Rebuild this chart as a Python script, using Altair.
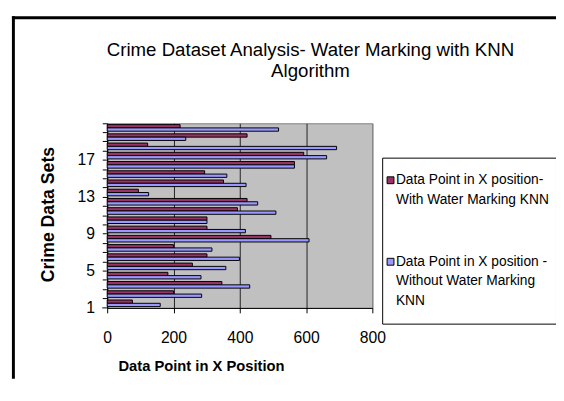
import altair as alt
import pandas as pd

# ---- data ----
datasets = list(range(1, 21))
with_wm = [76, 200, 346, 183, 257, 301, 200, 494, 301, 301, 393, 422, 94, 351, 294, 565, 593, 122, 422, 220]
without_wm = [160, 285, 430, 283, 358, 399, 316, 609, 417, 301, 509, 454, 125, 419, 361, 565, 662, 692, 237, 517]
series = ["Data Point in X position- With Water Marking KNN",
          "Data Point in X position - Without Water Marking KNN"]
colors = ["#993366", "#9999FF"]
x_ticks = [0, 200, 400, 600, 800]
y_labels = [1, 5, 9, 13, 17]
title_lines = ["Crime Dataset Analysis- Water Marking with KNN", "Algorithm"]
legend_lines = [["Data Point in X position-", "With Water Marking KNN"],
                ["Data Point in X position -", "Without Water Marking", "KNN"]]
x_title = "Data Point in X Position"
y_title = "Crime Data Sets"

rows = []
for d, a, b in zip(datasets, with_wm, without_wm):
    rows.append({"set": d, "series": series[0], "value": a})
    rows.append({"set": d, "series": series[1], "value": b})
df = pd.DataFrame(rows)

W, H = 270, 188
FONT = "Liberation Sans"

label_expr = f"indexof({y_labels}, datum.value) >= 0 ? datum.label : ''"

bars = alt.Chart(df).mark_bar(stroke="black", strokeWidth=1).encode(
    x=alt.X("value:Q",
            scale=alt.Scale(domain=[0, 800], nice=False, zero=True),
            axis=alt.Axis(values=x_ticks, title=None, grid=True,
                          gridColor={"condition": {"test": "datum.value === 800", "value": "#808080"},
                                     "value": "#222222"},
                          gridOpacity=1, tickSize=5, labelPadding=17, labelFontSize=16,
                          labelFont=FONT, labelColor="black", domainColor="black",
                          tickColor="black", labelFlush=False, format="d")),
    y=alt.Y("set:O", sort="descending",
            scale=alt.Scale(paddingInner=0, paddingOuter=0),
            axis=alt.Axis(title=None, bandPosition=0, labelOffset=4.7, labelExpr=label_expr,
                          labelOverlap=False, tickSize=5, labelPadding=8, labelFontSize=16,
                          labelFont=FONT, labelColor="black", domainColor="black",
                          tickColor="black", labelAngle=0)),
    yOffset=alt.YOffset("series:N", sort=series,
                        scale=alt.Scale(paddingInner=0, paddingOuter=0.4)),
    color=alt.Color("series:N", scale=alt.Scale(domain=series, range=colors), legend=None),
)


def one():
    return alt.Chart(pd.DataFrame({"t": [""]}))


def text(t, x, y, size, bold=False, angle=0, align="center"):
    return alt.Chart(pd.DataFrame({"t": [t]})).mark_text(
        font=FONT, fontSize=size, fontWeight="bold" if bold else "normal",
        angle=angle, align=align, baseline="middle", color="black"
    ).encode(text="t:N", x=alt.value(x), y=alt.value(y))


layers = [bars]

# bottom boundary tick on the category axis
layers.append(one().mark_rule(color="black", strokeWidth=1).encode(
    x=alt.value(-5), x2=alt.value(0), y=alt.value(H)))

# outer chart-area frame
layers.append(one().mark_rule(color="black", strokeWidth=3).encode(
    x=alt.value(-95.5), y=alt.value(-109), y2=alt.value(260)))
layers.append(one().mark_rule(color="black", strokeWidth=3).encode(
    x=alt.value(-97), x2=alt.value(470), y=alt.value(-107.5)))

# title
layers.append(text(title_lines[0], 207, -75, 19))
layers.append(text(title_lines[1], 207, -53, 19))

# axis titles
layers.append(text(x_title, 96, 247, 15, bold=True))
layers.append(text(y_title, -59, 93, 18, bold=True, angle=270))

# legend
layers.append(one().mark_rect(fill="white", stroke="black", strokeWidth=1).encode(
    x=alt.value(280.5), x2=alt.value(457.5), y=alt.value(35.5), y2=alt.value(204.5)))
sq_y = [58, 141]
for c, yy, lines in zip(colors, sq_y, legend_lines):
    layers.append(one().mark_rect(fill=c, stroke="black", strokeWidth=1).encode(
        x=alt.value(285), x2=alt.value(292), y=alt.value(yy - 3.5), y2=alt.value(yy + 3.5)))
    for i, ln in enumerate(lines):
        layers.append(text(ln, 294, yy + 20 * i, 14, align="left"))

chart = alt.layer(*layers).properties(
    width=W, height=H,
    autosize=alt.AutoSizeParams(type="none"),
    padding={"left": 101, "top": 114, "right": 187, "bottom": 70},
    background="white",
).configure_view(fill="#C0C0C0", stroke="#808080", strokeWidth=1)

chart.save("out.html", embed_options={"renderer": "svg", "actions": False})
